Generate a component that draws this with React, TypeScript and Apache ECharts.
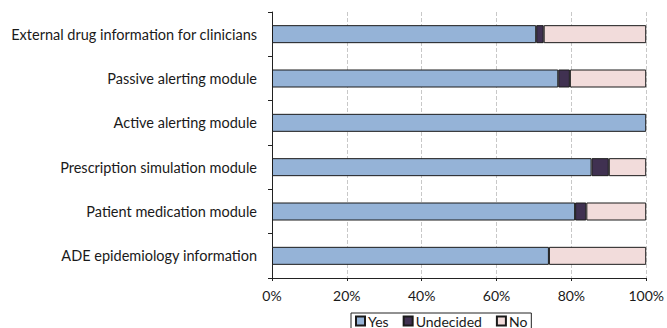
import React, { useEffect, useRef } from "react";
import * as echarts from "echarts";

const categories = [
  "External drug information for clinicians",
  "Passive alerting module",
  "Active alerting module",
  "Prescription simulation module",
  "Patient medication module",
  "ADE epidemiology information",
];
const yesValues = [70.6, 76.5, 100, 85.4, 81.0, 74.0];
const undecidedValues = [2.0, 3.1, 0, 4.6, 3.0, 0];
const noValues = [27.4, 20.4, 0, 10.0, 16.0, 26.0];
const xTicks = [0, 20, 40, 60, 80, 100];

export default function App() {
  const ref = useRef<HTMLDivElement>(null);
  useEffect(() => {
    document.body.style.margin = "0";
    const chart = echarts.init(ref.current!, null, { renderer: "svg" });
    const font = "Lato, 'Open Sans', sans-serif";
    const mk = (name: string, data: number[], color: string) => ({
      name,
      type: "bar",
      stack: "total",
      data: data.map((v) => (v === 0 ? null : v)),
      barWidth: 18,
      itemStyle: { color, borderColor: "#1a1a1a", borderWidth: 1 },
    });
    chart.setOption({
      animation: false,
      textStyle: { fontFamily: font },
      grid: { left: 272, right: 17, top: 12, bottom: 50 },
      xAxis: {
        type: "value",
        min: xTicks[0],
        max: xTicks[xTicks.length - 1],
        interval: 20,
        axisLine: { show: true, lineStyle: { color: "#222", width: 1 } },
        axisTick: { show: true, length: 3, lineStyle: { color: "#222" } },
        axisLabel: {
          formatter: "{value}%",
          color: "#1a1a1a",
          fontSize: 14,
          fontFamily: font,
          margin: 10,
        },
        splitLine: { show: true, lineStyle: { color: "#c8c8c8", type: "dashed", width: 1 } },
      },
      yAxis: {
        type: "category",
        data: categories,
        inverse: true,
        axisLine: { show: true, lineStyle: { color: "#222", width: 1 } },
        axisTick: { show: true, length: 4, lineStyle: { color: "#222" } },
        axisLabel: { color: "#1a1a1a", fontSize: 14.5, fontFamily: font, margin: 15 },
      },
      legend: {
        top: 313,
        left: 351,
        orient: "horizontal",
        itemWidth: 9,
        itemHeight: 9,
        itemGap: 14,
        borderColor: "#222",
        borderWidth: 1,
        borderRadius: 0,
        padding: [1, 4, 1, 4],
        textStyle: { color: "#1a1a1a", fontSize: 14, fontFamily: font, padding: [0, 0, 0, -2] },
        icon: "rect",
        data: ["Yes", "Undecided", "No"],
      },
      series: [
        mk("Yes", yesValues, "#95b3d7"),
        mk("Undecided", undecidedValues, "#403151"),
        mk("No", noValues, "#f2dcdb"),
      ],
    });
    return () => chart.dispose();
  }, []);
  return <div ref={ref} style={{ width: 667, height: 328 }} />;
}
